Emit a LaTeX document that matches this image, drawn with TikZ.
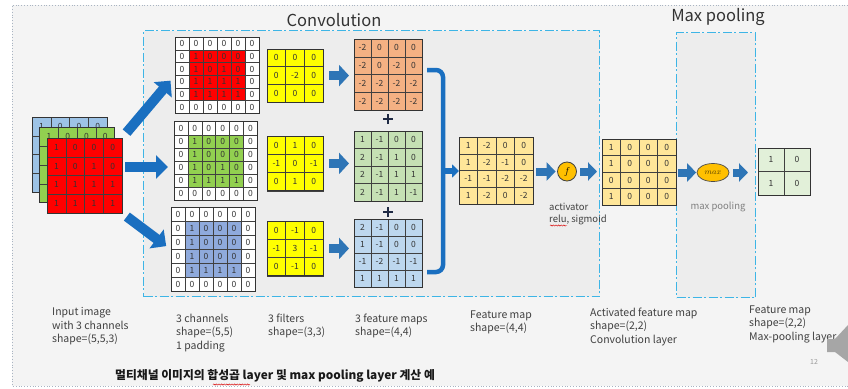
\documentclass[tikz,border=0pt]{standalone}
\usepackage{fontspec}
\setmainfont{Noto Sans CJK KR}
\usetikzlibrary{arrows.meta,shapes.geometric,decorations.pathmorphing}

\definecolor{slidebg}{HTML}{F4F4F4}
\definecolor{boxbg}{HTML}{EDEDED}
\definecolor{slideedge}{HTML}{A9B4C2}
\definecolor{dashblue}{HTML}{3DB5E6}
\definecolor{arrowblue}{HTML}{1A6FC0}
\definecolor{filtarrow}{HTML}{2E75B6}
\definecolor{inblue}{HTML}{9DC3E6}
\definecolor{ingreen}{HTML}{92D050}
\definecolor{inred}{HTML}{FF0000}
\definecolor{chblue}{HTML}{8FAADC}
\definecolor{filty}{HTML}{FFFF00}
\definecolor{mapor}{HTML}{F4B183}
\definecolor{mapgr}{HTML}{C5E0B4}
\definecolor{mapbl}{HTML}{BDD7EE}
\definecolor{fmapcol}{HTML}{FFE699}
\definecolor{actcol}{HTML}{FFC000}
\definecolor{outgr}{HTML}{E2F0D9}
\definecolor{txt}{HTML}{404040}
\definecolor{celltxt}{HTML}{333333}
\definecolor{plusnavy}{HTML}{1F2A44}

% #1 name, #2 x, #3 y (top left), #4 cell width, #5 cell height,
% #6 cells per side, #7 inner fill, #8 border-cell fill, #9 rows of values
\newcommand\numgrid[9]{%
  \foreach \rw [count=\ri] in {#9} {%
    \foreach \v [count=\ci] in \rw {%
      \pgfmathtruncatemacro\isedge{(\ri==1||\ri==#6||\ci==1||\ci==#6)?1:0}%
      \ifnum\isedge=1 \def\cf{#8}\else\def\cf{#7}\fi
      \node[gcell, fill=\cf, minimum width=#4pt, minimum height=#5pt]
        (#1-\ri-\ci) at ({#2+(\ci-0.5)*#4},{#3+(\ri-0.5)*#5}) {\v};
    }%
  }%
  \node[gridframe, minimum width={#6*#4pt}, minimum height={#6*#5pt}, anchor=north west]
    (#1) at (#2,#3) {};
}

\tikzset{
  gcell/.style={draw=black!75, line width=0.5pt, inner sep=0pt, outer sep=0pt,
    text=celltxt, font=\fontsize{8.5}{9}\selectfont},
  gridframe/.style={draw=black!80, line width=0.9pt, inner sep=0pt, outer sep=0pt},
  boxframe/.style={draw=dashblue, line width=1.1pt,
    dash pattern=on 9pt off 2.5pt on 2pt off 2.5pt, fill=boxbg, inner sep=0pt, anchor=north west},
  bigarr/.style={draw=arrowblue, line width=10pt, -{Triangle[length=12pt,width=23pt]}},
  filtarr/.style={draw=filtarrow, line width=9pt, -{Triangle[length=10pt,width=21pt]}},
  medarr/.style={draw=filtarrow, line width=8pt, -{Triangle[length=9pt,width=18pt]}},
  smallarr/.style={draw=arrowblue, line width=6pt, -{Triangle[length=7pt,width=13pt]}},
  bracketline/.style={draw=arrowblue, line width=4.5pt, rounded corners=7pt},
  capt/.style={anchor=north west, inner sep=0pt, align=left, text=txt,
    font=\fontsize{10.5}{13.5}\selectfont},
  headtext/.style={text=black!80, font=\fontsize{16.5}{18}\selectfont, inner sep=0pt},
  plusline/.style={draw=plusnavy, line width=2.8pt},
  squiggle/.style={draw=red!85!black, line width=0.45pt, decorate,
    decoration={snake, amplitude=0.6pt, segment length=2.6pt}},
}

\begin{document}
\begin{tikzpicture}[x=1pt,y=-1pt]
\useasboundingbox (0,0) rectangle (848,388);

% slide background and its dotted edge
\fill[white] (0,0) rectangle (848,388);
\fill[slidebg] (12,5) rectangle (848,386);
\draw[slideedge, dotted, line width=0.8pt] (848,5) -- (12,5) -- (12,386) -- (848,386);

% dash-dot group frames
\node[boxframe, minimum width=456pt, minimum height=266pt] (convbox) at (143,30) {};
\node[boxframe, minimum width=79pt, minimum height=265pt] (poolbox) at (676,32) {};
\node[headtext] (convtitle) at (334,20) {Convolution};
\node[headtext] (pooltitle) at (718,17) {Max pooling};

% input image: three stacked channels
\numgrid{inB}{32}{117}{18.75}{18.75}{4}{inblue}{inblue}{{1,0,0,0},{1,0,0,0},{1,0,0,0},{1,1,1,1}}
\numgrid{inG}{39.5}{127.5}{18.75}{18.75}{4}{ingreen}{ingreen}{{1,0,0,0},{1,0,0,0},{1,0,1,0},{1,1,1,1}}
\numgrid{inR}{47}{138}{18.75}{18.75}{4}{inred}{inred}{{1,0,0,0},{1,0,1,0},{1,1,1,1},{1,1,1,1}}

% padded channels
\numgrid{chR}{175}{37.3}{14}{12.67}{6}{inred}{white}{{0,0,0,0,0,0},{0,1,0,0,0,0},{0,1,0,1,0,0},{0,1,1,1,1,0},{0,1,1,1,1,0},{0,0,0,0,0,0}}
\numgrid{chG}{174}{121.7}{13.9}{13.05}{6}{ingreen}{white}{{0,0,0,0,0,0},{0,1,0,0,0,0},{0,1,0,0,0,0},{0,1,0,1,0,0},{0,1,1,1,1,0},{0,0,0,0,0,0}}
\numgrid{chB}{171}{207.7}{14}{14}{6}{chblue}{white}{{0,0,0,0,0,0},{0,1,0,0,0,0},{0,1,0,0,0,0},{0,1,0,0,0,0},{0,1,1,1,1,0},{0,0,0,0,0,0}}

% filters
\numgrid{fA}{267}{49}{18.7}{17.7}{3}{filty}{filty}{{0,0,0},{0,-2,0},{0,0,0}}
\numgrid{fB}{267}{136}{18.7}{18.3}{3}{filty}{filty}{{0,1,0},{-1,0,-1},{0,1,0}}
\numgrid{fC}{267}{221}{18.7}{18.3}{3}{filty}{filty}{{0,-1,0},{-1,3,-1},{0,-1,0}}

% per-channel feature maps
\numgrid{mA}{354}{39}{17}{17.75}{4}{mapor}{mapor}{{-2,0,0,0},{-2,0,-2,0},{-2,-2,-2,-2},{-2,-2,-2,-2}}
\numgrid{mB}{354}{131}{17}{17.5}{4}{mapgr}{mapgr}{{1,-1,0,0},{2,-1,1,0},{2,-1,1,1},{2,-1,1,-1}}
\numgrid{mC}{354}{219}{17}{17}{4}{mapbl}{mapbl}{{2,-1,0,0},{1,-1,0,0},{-1,-2,-1,-1},{1,1,1,1}}

% summed feature map, activated map, pooled map
\numgrid{fm}{459}{137}{18.5}{16.75}{4}{fmapcol}{fmapcol}{{1,-2,0,0},{1,-2,-1,0},{-1,-1,-2,-2},{1,-2,0,-2}}
\numgrid{am}{602}{139}{18.5}{16.5}{4}{fmapcol}{fmapcol}{{1,0,0,0},{1,0,0,0},{0,0,0,0},{1,0,0,0}}
\numgrid{out}{758}{148}{26}{23.5}{2}{outgr}{outgr}{{1,0},{1,0}}

% input to channels
\coordinate (midtail) at (125,167);
\draw[bigarr, shorten <=7pt, shorten >=7pt] (inR.north east) -- (chR.west);
\draw[bigarr, shorten >=6pt] (midtail) -- (midtail -| chG.west);
\draw[bigarr, shorten <=6pt, shorten >=6pt] (inR.south east) -- (chB.west);

% filters to feature maps
\draw[filtarr, shorten <=6pt, shorten >=5pt] (fA.east) -- (fA.east -| mA.west);
\draw[filtarr, shorten <=6pt, shorten >=5pt] (fB.east) -- (fB.east -| mB.west);
\draw[filtarr, shorten <=6pt, shorten >=5pt] (fC.east) -- (fC.east -| mC.west);

% plus signs between the maps
\node[inner sep=0pt] (plusA) at (388,119) {};
\node[inner sep=0pt] (plusB) at (388,212) {};
\foreach \p in {plusA,plusB} {
  \draw[plusline] ([xshift=-5pt]\p.center) -- ([xshift=5pt]\p.center);
  \draw[plusline] ([yshift=-5pt]\p.center) -- ([yshift=5pt]\p.center);
}

% summing bracket
\coordinate (brT) at (427,70);
\coordinate (brM) at (443,171);
\coordinate (brB) at (427,272);
\draw[bracketline] (brT) -| (brM) |- (brB);
\draw[smallarr] (brM) -- (brM -| fm.west);

% activation
\node[circle, draw=black!75, line width=0.8pt, fill=actcol, minimum size=19pt, inner sep=0pt]
  (fact) at (567,171.5) {$f$};
\draw[medarr, shorten <=3pt, shorten >=1.5pt] (fm.east |- fact) -- (fact.west);
\draw[medarr, shorten <=3.5pt, shorten >=5pt] (fact.east) -- (fact.east -| am.west);
\node[anchor=north west, inner sep=0pt, align=left, text=txt, font=\fontsize{9.5}{11.5}\selectfont]
  (actlabel) at (549,203) {activator\\relu, sigmoid};
\draw[squiggle] (550,225.5) -- (567,225.5);

% max pooling
\node[ellipse, draw=black!70, line width=0.7pt, fill=actcol, minimum width=32pt, minimum height=18pt, inner sep=0pt]
  (fmax) at (713,172.5) {\color{black!65!actcol}\fontsize{8}{8}\selectfont$max$};
\draw[medarr, shorten <=2pt, shorten >=0.5pt] (am.east |- fmax) -- (fmax.west);
\draw[medarr, shorten <=4pt, shorten >=10pt] (fmax.east) -- (fmax.east -| out.west);
\node[text=black!50, font=\fontsize{9.5}{10}\selectfont, inner sep=0pt] (poollabel) at (718,207) {max pooling};

% captions
\node[capt] (capIn) at (52,307.5) {Input image\\with 3 channels\\shape=(5,5,3)};
\node[capt] (capCh) at (176,313.5) {3 channels\\shape=(5,5)\\1 padding};
\node[capt] (capF) at (268,313.5) {3 filters\\shape=(3,3)};
\node[capt] (capM) at (355,313.5) {3 feature maps\\shape=(4,4)};
\node[capt] (capFm) at (470,310.5) {Feature map\\shape=(4,4)};
\node[capt] (capAm) at (590,307.5) {Activated feature map\\shape=(2,2)\\Convolution layer};
\node[capt] (capOut) at (749,305.5) {Feature map\\shape=(2,2)\\Max-pooling layer};

% slide footer
\node[anchor=west, inner sep=0pt, text=black!90, font=\fontsize{11.8}{13}\bfseries] (foot) at (115,376)
  {멀티채널 이미지의 합성곱 layer 및 max pooling layer 계산 예};
\draw[squiggle] (213,384.5) -- (250,384.5);
\node[text=black!40, font=\fontsize{7}{8}\selectfont, inner sep=0pt] (pagenum) at (814,362) {12};

% speaker icon at the slide's edge
\fill[black!35] (827,339) -- (835,339) -- (848,325) -- (848,362) -- (835,352) -- (827,352) -- cycle;
\end{tikzpicture}
\end{document}
